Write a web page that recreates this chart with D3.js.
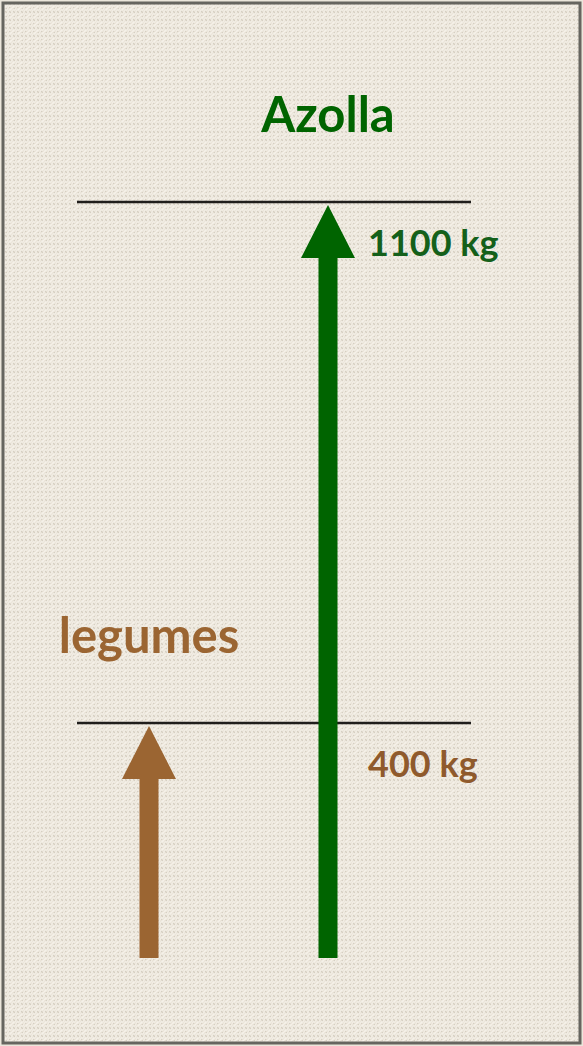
<!DOCTYPE html>
<html>
<head>
<meta charset="utf-8">
<script src="https://cdn.jsdelivr.net/npm/d3@7"></script>
<style>
  html, body { margin: 0; padding: 0; background: #ebe6db; }
  svg { display: block; }
</style>
</head>
<body>
<div id="chart"></div>
<script>
// Nitrogen fixed per year: legumes vs Azolla
const crops = ["legumes", "Azolla"];
const values = [400, 1100];
const value_labels = ["400 kg", "1100 kg"];
const crop_colors = ["#9b6532", "#006400"];
const label_colors = ["#8f5a2c", "#14601a"];

const width = 583;
const height = 1046;
const base_y = 958;

const svg = d3.select("#chart").append("svg")
    .attr("width", width)
    .attr("height", height);

// canvas-like texture
const defs = svg.append("defs");
const pat = defs.append("pattern")
    .attr("id", "canvas")
    .attr("width", 8)
    .attr("height", 8)
    .attr("patternUnits", "userSpaceOnUse");
pat.append("rect").attr("width", 8).attr("height", 8).attr("fill", "#ebe5da");
pat.append("path")
    .attr("d", "M0,8 L4,4 M4,8 L8,4 M0,4 L4,0 M4,4 L8,0")
    .attr("stroke", "#f5f1e9").attr("stroke-width", 1.6);
pat.append("path")
    .attr("d", "M1,3 L3,5 M5,3 L7,5 M1,7 L3,9 M5,-1 L7,1")
    .attr("stroke", "#d6cfc2").attr("stroke-width", 1.1);

svg.append("rect")
    .attr("x", 3).attr("y", 3)
    .attr("width", width - 6).attr("height", height - 6)
    .attr("fill", "url(#canvas)")
    .attr("stroke", "#66655f")
    .attr("stroke-width", 3);

const x = d3.scalePoint().domain(crops).range([149, 328]);
const y = d3.scaleLinear().domain([400, 1100]).range([723, 202]);

const data = crops.map((c, i) => ({
    crop: c, value: values[i], label: value_labels[i],
    color: crop_colors[i], text_color: label_colors[i]
}));

// reference lines
svg.selectAll("line.level")
    .data(data)
    .join("line")
    .attr("class", "level")
    .attr("x1", 77).attr("x2", 471)
    .attr("y1", d => y(d.value)).attr("y2", d => y(d.value))
    .attr("stroke", "#201e1c")
    .attr("stroke-width", 2.6);

// arrows
const shaft_w = 19, head_w = 54, head_h = 53;
svg.selectAll("path.arrow")
    .data(data)
    .join("path")
    .attr("class", "arrow")
    .attr("fill", d => d.color)
    .attr("d", d => {
        const cx = x(d.crop);
        const tip = y(d.value) + 3;
        const hb = tip + head_h;
        return `M${cx - shaft_w / 2},${base_y} L${cx - shaft_w / 2},${hb} L${cx - head_w / 2},${hb}
                L${cx},${tip} L${cx + head_w / 2},${hb} L${cx + shaft_w / 2},${hb}
                L${cx + shaft_w / 2},${base_y} Z`;
    });

// crop names
svg.selectAll("text.crop")
    .data(data)
    .join("text")
    .attr("class", "crop")
    .attr("x", d => x(d.crop))
    .attr("y", d => y(d.value) - 70)
    .attr("text-anchor", "middle")
    .style("font-family", "Lato, 'Open Sans', sans-serif")
    .style("font-weight", "bold")
    .style("font-size", "49px")
    .style("fill", d => d.color)
    .text(d => d.crop);

// values
svg.selectAll("text.value")
    .data(data)
    .join("text")
    .attr("class", "value")
    .attr("x", 368)
    .attr("y", d => y(d.value) + 54)
    .style("font-family", "Lato, 'Open Sans', sans-serif")
    .style("font-weight", "bold")
    .style("font-size", "36px")
    .style("fill", d => d.text_color)
    .text(d => d.label);
</script>
</body>
</html>
